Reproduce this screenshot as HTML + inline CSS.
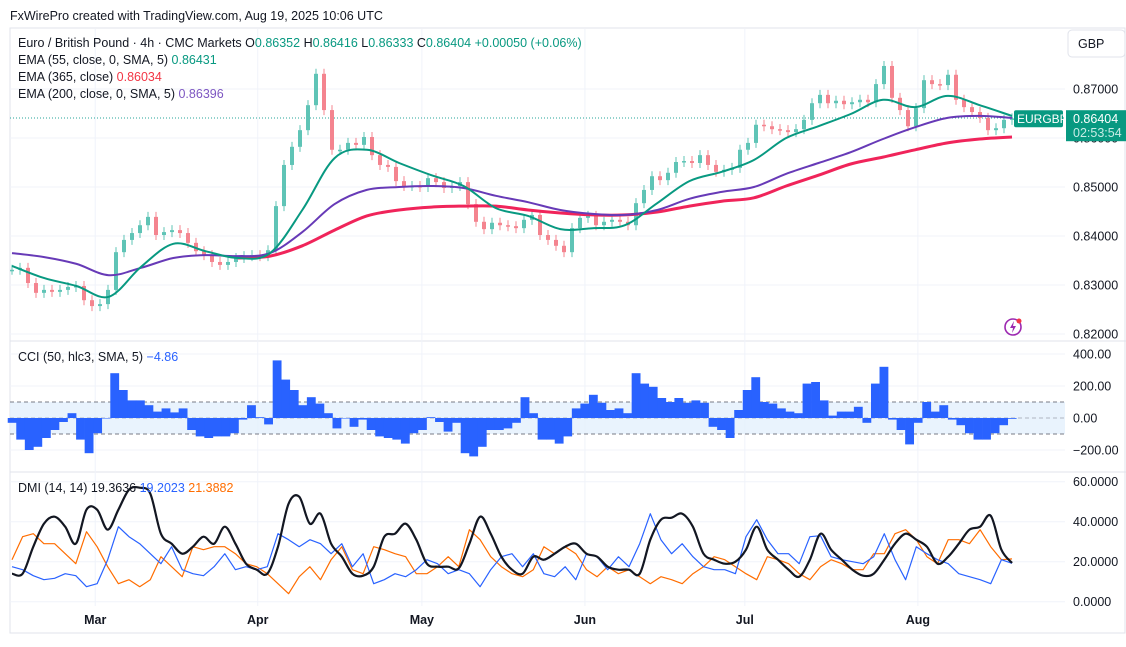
<!DOCTYPE html>
<html><head><meta charset="utf-8"><style>
body{margin:0;background:#fff;font-family:"Liberation Sans",sans-serif;}
svg text{font-family:"Liberation Sans",sans-serif;}
</style></head><body>
<svg id="c" width="1126" height="642" xmlns="http://www.w3.org/2000/svg">
<rect x="0" y="0" width="1126" height="642" fill="#fff"/>
<text x="10" y="20" font-size="12.5" fill="#131722">FxWirePro created with TradingView.com, Aug 19, 2025 10:06 UTC</text>
<rect x="10" y="28" width="1115" height="605" fill="none" stroke="#e0e3eb"/>
<line x1="10" y1="341" x2="1126" y2="341" stroke="#e0e3eb"/>
<line x1="10" y1="472" x2="1126" y2="472" stroke="#e0e3eb"/>
<g id="grid"></g>
<rect x="10" y="402" width="1055" height="32" fill="#e3f0fd" opacity="0.8"/>
<line x1="10" y1="402" x2="1065" y2="402" stroke="#787b86" stroke-dasharray="4,3"/>
<line x1="10" y1="418" x2="1065" y2="418" stroke="#787b86" stroke-dasharray="4,3" stroke-opacity="0.5"/>
<line x1="10" y1="434" x2="1065" y2="434" stroke="#787b86" stroke-dasharray="4,3"/>
<line x1="10" y1="118" x2="1065" y2="118" stroke="#26a69a" stroke-dasharray="1,2"/>
<g id="candles"></g><g id="emas"></g><g id="cci"></g><g id="dmi"></g><g id="axes"></g>
<g font-size="12.5">
<text x="18" y="47" fill="#131722">Euro / British Pound · 4h · CMC Markets <tspan>O</tspan><tspan fill="#089981">0.86352</tspan> <tspan>H</tspan><tspan fill="#089981">0.86416</tspan> <tspan>L</tspan><tspan fill="#089981">0.86333</tspan> <tspan>C</tspan><tspan fill="#089981">0.86404</tspan> <tspan fill="#089981">+0.00050 (+0.06%)</tspan></text>
<text x="18" y="64" fill="#131722">EMA (55, close, 0, SMA, 5) <tspan fill="#089981">0.86431</tspan></text>
<text x="18" y="81" fill="#131722">EMA (365, close) <tspan fill="#f23645">0.86034</tspan></text>
<text x="18" y="98" fill="#131722">EMA (200, close, 0, SMA, 5) <tspan fill="#7e57c2">0.86396</tspan></text>
</g>
<text x="18" y="361" font-size="12.5" fill="#131722">CCI (50, hlc3, SMA, 5) <tspan fill="#2962ff">−4.86</tspan></text>
<text x="18" y="492" font-size="12.5" fill="#131722">DMI (14, 14) 19.3636 <tspan fill="#2962ff">19.2023</tspan> <tspan fill="#ff6d00">21.3882</tspan></text>
<rect x="1068" y="30" width="57" height="27" rx="4" fill="#fff" stroke="#e0e3eb"/>
<text x="1078" y="48" font-size="12.5" fill="#131722">GBP</text>
<g id="labels"></g>
<g>
<circle cx="1013" cy="327" r="8" fill="none" stroke="#9c27b0" stroke-width="1.6"/>
<path d="M1014 321 L1010 328 L1013 328 L1012 333 L1016 326 L1013 326 Z" fill="#9c27b0"/>
<circle cx="1019" cy="321" r="2.5" fill="#f23645"/>
</g>
</svg>
<script>
const NS='http://www.w3.org/2000/svg';
// ---------- data ----------
const closes=[0.8331,0.8335,0.8304,0.8284,0.8290,0.8286,0.8290,0.8296,0.8298,0.8269,0.8257,0.8261,0.8290,0.8367,0.8392,0.8406,0.8422,0.8439,0.8402,0.8408,0.8412,0.8406,0.8386,0.8369,0.8361,0.8347,0.8341,0.8347,0.8355,0.8359,0.8361,0.8359,0.8371,0.8461,0.8545,0.8582,0.8616,0.8667,0.8731,0.8657,0.8576,0.8576,0.8590,0.8586,0.8602,0.8565,0.8545,0.8541,0.8512,0.8502,0.8502,0.8500,0.8518,0.8510,0.8498,0.8502,0.8510,0.8465,0.8429,0.8414,0.8427,0.8422,0.8420,0.8416,0.8433,0.8443,0.8402,0.8392,0.8380,0.8367,0.8416,0.8437,0.8441,0.8422,0.8429,0.8433,0.8429,0.8422,0.8467,0.8494,0.8522,0.8514,0.8529,0.8551,0.8553,0.8549,0.8565,0.8545,0.8531,0.8535,0.8539,0.8576,0.8590,0.8627,0.8624,0.8618,0.8616,0.8612,0.8618,0.8637,0.8671,0.8688,0.8671,0.8676,0.8669,0.8673,0.8678,0.8673,0.8710,0.8747,0.8682,0.8657,0.8624,0.8661,0.8718,0.8710,0.8708,0.8729,0.8678,0.8663,0.8653,0.8641,0.8616,0.8620,0.8637,0.8640];
const ema55=[0.8339,0.8314,0.8298,0.8276,0.8337,0.8384,0.8369,0.8355,0.8365,0.8453,0.8559,0.8576,0.8549,0.8524,0.8502,0.8457,0.8441,0.8414,0.8416,0.8422,0.8467,0.8512,0.8531,0.8555,0.8600,0.8624,0.8649,0.8678,0.8663,0.8686,0.8667,0.8645];
const ema200=[0.8365,0.8357,0.8343,0.8320,0.8335,0.8355,0.8361,0.8359,0.8365,0.8408,0.8465,0.8494,0.8500,0.8502,0.8498,0.8482,0.8469,0.8453,0.8445,0.8443,0.8453,0.8476,0.8490,0.8500,0.8527,0.8549,0.8571,0.8598,0.8622,0.8641,0.8645,0.8641];
const ema365=[null,null,null,null,null,null,null,0.8355,0.8359,0.8380,0.8412,0.8441,0.8453,0.8459,0.8461,0.8461,0.8453,0.8447,0.8443,0.8443,0.8449,0.8461,0.8471,0.8478,0.8502,0.8524,0.8547,0.8561,0.8576,0.8590,0.8598,0.8602];
const cciVals=[-30,-135,-200,-180,-125,-75,-25,30,-135,-220,-95,0,280,175,110,110,80,40,60,35,60,-75,-115,-125,-115,-115,-95,-10,80,5,-40,360,240,175,80,130,90,30,-65,0,-55,-10,-75,-115,-125,-135,-160,-95,-75,5,-25,-85,-30,-220,-240,-180,-75,-75,-65,-30,130,30,-135,-135,-160,-115,60,90,145,95,50,60,30,280,215,195,125,100,125,95,110,95,-55,-75,-125,50,175,255,100,90,60,40,30,215,225,110,15,40,40,70,-30,215,320,-10,-75,-165,-30,100,40,80,-10,-45,-95,-135,-135,-95,-45,-5];
const adx=[14,14,27.5,39,42.5,37.5,29,46,46,36,46,56,57,54,34,29,24,27.5,32.5,29,37.5,29,19,16,14,27.5,49,52.5,39,44,29,22.5,14,13,17.5,32.5,34,39,31,19,17.5,17.5,16.7,29,42.5,34,22.5,16,14,22.5,21,24,27.5,29,24,22.5,17.5,16,16,14,31,41,42,44,37.5,24,21,19,20,26,37.5,26,21,16,12.5,21,34,26,21,16,13,14,21,29,34,31,27.5,19,22.5,29,36,37.5,43,26,19.4];
const plusDI=[17.5,16,13,11,11.7,14,13,7.5,9,21,37.5,32.5,29,24,19,27.5,16,14,13,17.5,24,16,17.5,16,17.5,34,31,27.5,31,29,24,29,17.5,24,9,11,14,12.5,16,21,19,14,16,14,7.5,16,22.5,24,17.5,24,14,12.5,17.5,11,24,22.5,16,22.5,17.5,29,44,31,24,29,22.5,17.5,16,16,14,32.5,41,31,24,24,19,32.5,33,22.5,21,20,19,22.5,34,21,11,27.5,24,21,19,14,12.5,11,9,21,19.2];
const minusDI=[21,32.5,34,29,29,24,19,35,27.5,17.5,9,11,7.5,11,22.5,17.5,12.5,27.5,26,27.5,27.5,24,19,17.5,14,9,4,12.5,17.5,11,21,27.5,16,14,27.5,26,24,22.5,14,14,17.5,22.5,17.5,36,31,22.5,17.5,14,12.5,16,27.5,24,27.5,24,16,12.5,17.5,14,16,12.5,9,12.5,11,9,14,17.5,22.5,21,17.5,14,11,22.5,21,19,14,11,17.5,21,19,16,16,24,24,34,36,31,22.5,19,31,31,29,36,27.5,21,21.4];
const priceTicks=[0.87,0.86,0.85,0.84,0.83,0.82];
const cciTicks=[400,200,0,-200];
const dmiTicks=[60,40,20,0];
const months=['Mar','Apr','May','Jun','Jul','Aug'];
const monthDay=[16.2,47.1,78.3,109.3,139.7,172.6];
const lastPrice=0.86404;
// ---------- scales ----------
const X0=12,X1=1012;
const yP=p=>89+(0.87-p)*4900;
const yC=v=>418-v*0.16;
const yD=v=>601.7-v*2;
const xAt=(i,n)=>X0+(X1-X0)*i/(n-1);
const xDay=d=>10+d*5.26;
function mk(tag,attrs,parent){const e=document.createElementNS(NS,tag);for(const k in attrs)e.setAttribute(k,attrs[k]);parent.appendChild(e);return e;}
const G=id=>document.getElementById(id);
const grid=G('grid'),axes=G('axes');
priceTicks.forEach(t=>{
 const l=mk('line',{x1:10,x2:1065,y1:yP(t),y2:yP(t),stroke:'#f0f3fa'},grid);
 
 
 const tx=mk('text',{x:1073,y:yP(t)+4.5,'font-size':12.5,fill:'#131722'},axes);tx.textContent=t.toFixed(5);
 
 
});
cciTicks.forEach(t=>{
 const l=mk('line',{x1:10,x2:1065,y1:yC(t),y2:yC(t),stroke:'#f0f3fa'},grid);
 
 
 const tx=mk('text',{x:1073,y:yC(t)+4.5,'font-size':12.5,fill:'#131722'},axes);tx.textContent=(t<0?'−':'')+Math.abs(t).toFixed(2);
 
 
});
dmiTicks.forEach(t=>{
 const l=mk('line',{x1:10,x2:1065,y1:yD(t),y2:yD(t),stroke:'#f0f3fa'},grid);
 
 
 const tx=mk('text',{x:1073,y:yD(t)+4.5,'font-size':12.5,fill:'#131722'},axes);tx.textContent=t.toFixed(4);
 
 
});
months.forEach((m,i)=>{
 const x=xDay(monthDay[i]);
 const l=mk('line',{x1:x,x2:x,y1:29,y2:606,stroke:'#f0f3fa'},grid);
 
 
 const tx=mk('text',{x:x,y:624,'font-size':12.5,'font-weight':'bold',fill:'#131722','text-anchor':'middle'},axes);tx.textContent=m;
 
 
});
// candles
const cg=G('candles');
closes.forEach((c,i)=>{
 const o=i?closes[i-1]:c; const x=xAt(i,closes.length);
 const up=c>=o; const col=up?'#5fc4b6':'#f4848f';
 const top=yP(Math.max(o,c)),bot=yP(Math.min(o,c));
 const w=mk('line',{x1:x,x2:x,y1:top-5,y2:bot+5,stroke:col,'stroke-width':1},cg);
 
 
 const b=mk('rect',{x:x-2,y:top,width:4,height:Math.max(1.5,bot-top),fill:col},cg);
 
 
});
// smooth line helper (Catmull-Rom)
function line(arr,n,sy,col,w,name,parent,smooth){
 const pts=[];arr.forEach((v,i)=>{if(v!=null)pts.push([xAt(i,n),sy(v)]);});
 let d='M'+pts[0][0].toFixed(1)+' '+pts[0][1].toFixed(1);
 for(let i=0;i<pts.length-1;i++){
  if(!smooth){d+='L'+pts[i+1][0].toFixed(1)+' '+pts[i+1][1].toFixed(1);continue;}
  const p0=pts[Math.max(0,i-1)],p1=pts[i],p2=pts[i+1],p3=pts[Math.min(pts.length-1,i+2)];
  const c1=[p1[0]+(p2[0]-p0[0])/6,p1[1]+(p2[1]-p0[1])/6],c2=[p2[0]-(p3[0]-p1[0])/6,p2[1]-(p3[1]-p1[1])/6];
  d+='C'+c1[0].toFixed(1)+' '+c1[1].toFixed(1)+' '+c2[0].toFixed(1)+' '+c2[1].toFixed(1)+' '+p2[0].toFixed(1)+' '+p2[1].toFixed(1);
 }
 const p=mk('path',{d:d,fill:'none',stroke:col,'stroke-width':w,'stroke-linejoin':'round'},parent);
 
 
}
const eg=G('emas');
line(ema365,ema365.length,yP,'#f0245a',3,'ema-365-line',eg,true);
line(ema200,ema200.length,yP,'#673ab7',2,'ema-200-line',eg,true);
line(ema55,ema55.length,yP,'#089981',2,'ema-55-line',eg,true);
// cci
const cc=G('cci'); const cw=(X1-X0)/(cciVals.length-1);
cciVals.forEach((v,i)=>{
 const x=xAt(i,cciVals.length); const y=yC(Math.max(v,0)); const h=Math.abs(yC(v)-yC(0));
 const r=mk('rect',{x:x-cw/2,y:y,width:cw+0.3,height:Math.max(h,0.5),fill:'#2962ff'},cc);
 
 
});
// dmi
const dg=G('dmi');
line(minusDI,minusDI.length,yD,'#ff6d00',1.2,'minus-di-line',dg,false);
line(plusDI,plusDI.length,yD,'#2962ff',1.2,'plus-di-line',dg,false);
line(adx,adx.length,yD,'#131722',2.2,'adx-line',dg,true);
// price labels
const lg=G('labels'); const ly=yP(lastPrice);
const s1=mk('rect',{x:1014,y:ly-8,width:49,height:17,rx:2,fill:'#089981'},lg);


const s2=mk('text',{x:1017,y:ly+5,'font-size':12,fill:'#fff'},lg);s2.textContent='EURGBP';


const s3=mk('rect',{x:1066,y:ly-8,width:60,height:31,fill:'#089981'},lg);


const s4=mk('text',{x:1073,y:ly+5,'font-size':12.5,fill:'#fff'},lg);s4.textContent=lastPrice.toFixed(5);


const s5=mk('text',{x:1073,y:ly+19,'font-size':12.5,fill:'#c8ece6'},lg);s5.textContent='02:53:54';


</script>
</body></html>
